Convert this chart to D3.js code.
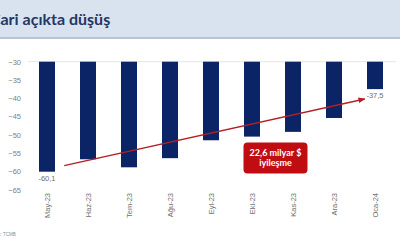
<!DOCTYPE html>
<html>
<head>
<meta charset="utf-8">
<script src="https://cdn.jsdelivr.net/npm/d3@7"></script>
<style>
  html, body { margin: 0; padding: 0; background: #fff; }
  svg { display: block; }
</style>
</head>
<body>
<div id="chart"></div>
<script>
// Data
var months = ['May-23', 'Haz-23', 'Tem-23', 'Ağu-23', 'Eyl-23', 'Eki-23', 'Kas-23', 'Ara-23', 'Oca-24'];
var deficit = [-60.1, -56.7, -58.9, -56.4, -51.5, -50.5, -49.2, -45.4, -37.5];
var yTicks = [-30, -35, -40, -45, -50, -55, -60, -65];
var labelled = ['May-23', 'Oca-24'];
// arrow annotation in data terms: [month, offset in steps, value]
var arrowFrom = ['May-23', 0.42, -58.45];
var arrowTo = ['Oca-24', -0.25, -40.2];
var noteLines = ['22,6 milyar $', 'iyileşme'];
var title = 'Cari açıkta düşüş';
var source = 'Kaynak: TCMB';

var width = 400, height = 240;

var svg = d3.select('#chart')
            .append('svg')
            .attr('width', width)
            .attr('height', height);

// Header band
svg.append('rect')
   .attr('x', 0).attr('y', 0)
   .attr('width', width).attr('height', 37)
   .attr('fill', '#d9e2ef');
svg.append('rect')
   .attr('x', 0).attr('y', 37)
   .attr('width', width).attr('height', 2)
   .attr('fill', '#b9c3d6');

var titleText = svg.append('text')
   .attr('y', 25)
   .attr('font-family', 'Lato, sans-serif')
   .attr('font-weight', 'bold')
   .attr('font-size', 16)
   .attr('fill', '#1f3864')
   .text(title);
// first letter falls off the left edge, as in the slide crop
var cWidth = titleText.node().getSubStringLength(0, 1);
titleText.attr('x', -cWidth + 0.5);

// Scales
var x = d3.scaleBand()
          .domain(months)
          .range([26.7, 395.3])
          .paddingInner(0.61)
          .paddingOuter(0.3);

var y = d3.scaleLinear()
          .domain([-30, -65])
          .range([61.7, 189.6]);

var g = svg.append('g');

// Y axis
var y_axis = d3.axisLeft(y)
               .tickValues(yTicks)
               .tickSize(0)
               .tickPadding(0);

g.append('g')
 .attr('transform', 'translate(21,0)')
 .call(y_axis)
 .call(function(a) {
   a.select('.domain').remove();
   a.selectAll('text')
    .attr('font-family', 'Liberation Sans, sans-serif')
    .attr('font-size', 7.5)
    .attr('fill', '#7f7f7f');
 });

// baseline at -30
g.append('line')
 .attr('x1', 28).attr('x2', 396)
 .attr('y1', y(-30)).attr('y2', y(-30))
 .attr('stroke', '#e4e4e4')
 .attr('stroke-width', 1);

// Bars
g.selectAll('.bar')
 .data(months)
 .enter()
 .append('rect')
 .attr('class', 'bar')
 .attr('x', function(d) { return x(d); })
 .attr('y', y(-30))
 .attr('width', x.bandwidth())
 .attr('height', function(d, i) { return y(deficit[i]) - y(-30); })
 .attr('fill', '#0b2466');

// Value labels
g.selectAll('.val')
 .data(labelled)
 .enter()
 .append('text')
 .attr('class', 'val')
 .attr('x', function(d) { return x(d) + x.bandwidth() / 2; })
 .attr('y', function(d) { return y(deficit[months.indexOf(d)]) + 9; })
 .attr('text-anchor', 'middle')
 .attr('font-family', 'Liberation Sans, sans-serif')
 .attr('font-size', 7.5)
 .attr('fill', '#6f6f6f')
 .text(function(d) { return String(deficit[months.indexOf(d)]).replace('.', ','); });

// X axis labels (rotated)
var x_axis = d3.axisBottom(x).tickSize(0).tickPadding(0);
g.append('g')
 .attr('transform', 'translate(0,193)')
 .call(x_axis)
 .call(function(a) {
   a.select('.domain').remove();
   a.selectAll('text')
    .attr('transform', 'rotate(-90)')
    .attr('text-anchor', 'end')
    .attr('x', 0)
    .attr('y', 0)
    .attr('dy', '0.35em')
    .attr('font-family', 'Liberation Sans, sans-serif')
    .attr('font-size', 7.5)
    .attr('fill', '#6f6f6f');
 });

// Arrow
var step = x.step();
function px(p) { return x(p[0]) + x.bandwidth() / 2 + p[1] * step; }

svg.append('defs')
   .append('marker')
   .attr('id', 'arrowhead')
   .attr('viewBox', '0 0 10 10')
   .attr('refX', 9).attr('refY', 5)
   .attr('markerWidth', 5).attr('markerHeight', 5)
   .attr('orient', 'auto')
   .append('path')
   .attr('d', 'M0,1 L10,5 L0,9 Z')
   .attr('fill', '#b22026');

g.append('line')
 .attr('x1', px(arrowFrom)).attr('y1', y(arrowFrom[2]))
 .attr('x2', px(arrowTo)).attr('y2', y(arrowTo[2]))
 .attr('stroke', '#b22026')
 .attr('stroke-width', 1.4)
 .attr('marker-end', 'url(#arrowhead)');

// Note box
var note = g.append('g')
            .attr('transform', 'translate(243.5,142.5)');
note.append('rect')
    .attr('width', 64).attr('height', 31)
    .attr('rx', 4)
    .attr('fill', '#c00d12');
note.selectAll('text')
    .data(noteLines)
    .enter()
    .append('text')
    .attr('x', 32)
    .attr('y', function(d, i) { return 13 + i * 10.5; })
    .attr('text-anchor', 'middle')
    .attr('font-family', 'Lato, sans-serif')
    .attr('font-weight', 'bold')
    .attr('font-size', 9)
    .attr('fill', '#fff')
    .text(function(d) { return d; });

// Source
var src = svg.append('text')
   .attr('y', 236)
   .attr('font-family', 'Liberation Sans, sans-serif')
   .attr('font-size', 4.5)
   .attr('fill', '#8a8a8a')
   .text(source);
var srcHidden = src.node().getSubStringLength(0, 6);
src.attr('x', -srcHidden + 0.5);
</script>
</body>
</html>
